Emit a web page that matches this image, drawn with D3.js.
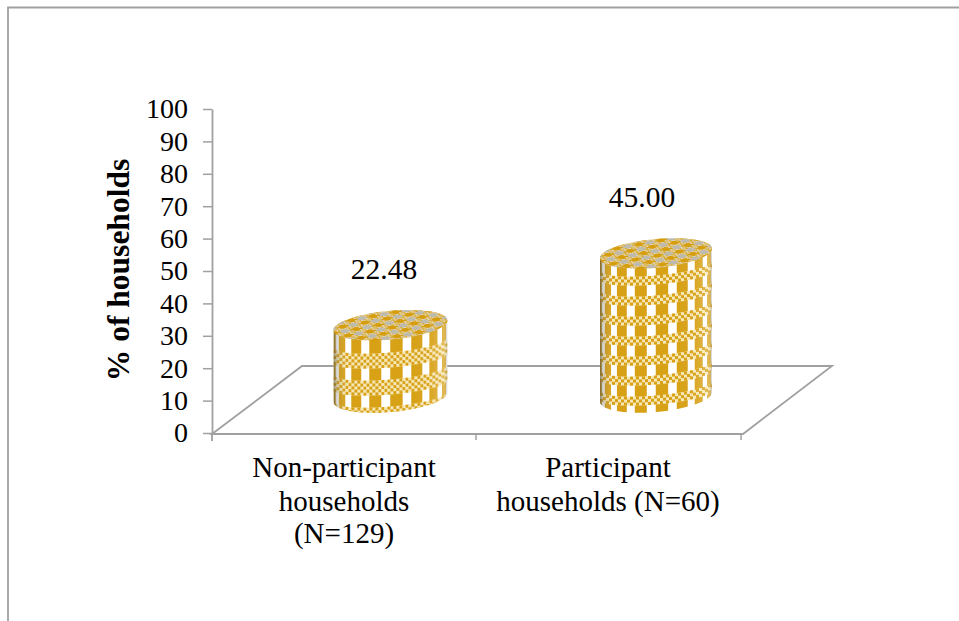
<!DOCTYPE html>
<html><head><meta charset="utf-8">
<script src="https://cdn.jsdelivr.net/npm/d3@7/dist/d3.min.js"></script>
<style>html,body{margin:0;padding:0;background:#fff}svg{display:block}text{font-family:"Liberation Serif","Times New Roman",serif;fill:#000}</style>
</head><body><div id="c"></div>
<script>
const categories=[["Non-participant","households","(N=129)"],["Participant","households (N=60)"]];
const values=[22.48,45.00];
const valueLabels=["22.48","45.00"];
const yTicks=d3.range(0,101,10);
const yTitle="% of households";
const gold="#d69d0c", grey="#a0a0a0";
const W=959,H=621;
const svg=d3.select("#c").append("svg").attr("width",W).attr("height",H);
const defs=svg.append("defs");
svg.append("path").attr("d","M8,621V7.5H959").attr("fill","none").attr("stroke",grey).attr("stroke-width",1.8);
const y=d3.scaleLinear().domain([0,100]).range([433,109]);
const yDepth=d3.scaleLinear().domain([0,100]).range([397,78]);
svg.append("path").attr("d","M212,434L302,366H832L743,434Z").attr("fill","none").attr("stroke",grey).attr("stroke-width",1.8);
const gy=svg.append("g").attr("transform","translate(212,0)").call(d3.axisLeft(y).tickValues(yTicks).tickSize(9).tickPadding(15).tickSizeOuter(0));
gy.select(".domain").attr("stroke",grey).attr("stroke-width",1.8);
gy.selectAll(".tick line").attr("stroke",grey).attr("stroke-width",1.5);
gy.selectAll("text").attr("font-size",28).attr("font-family","Liberation Serif");
svg.append("line").attr("x1",212).attr("x2",212).attr("y1",433).attr("y2",441).attr("stroke",grey).attr("stroke-width",1.8);
svg.selectAll("line.xt").data([476,741]).join("line").attr("x1",d=>d).attr("x2",d=>d).attr("y1",434).attr("y2",440).attr("stroke",grey).attr("stroke-width",1.5);
svg.append("text").attr("transform","translate(129,270) rotate(-90)").attr("text-anchor","middle").attr("font-size",31.5).attr("font-weight","bold").text(yTitle);
const S=16,h=S/2;
const pat=defs.append("pattern").attr("id","topPat").attr("patternUnits","userSpaceOnUse").attr("width",S).attr("height",S).attr("patternTransform","scale(1,0.42) rotate(32)");
pat.append("rect").attr("width",S).attr("height",S).attr("fill","#e4e2d8");
pat.append("rect").attr("width",h).attr("height",h).attr("fill",gold);
pat.append("rect").attr("x",h).attr("y",h).attr("width",h).attr("height",h).attr("fill","#bdbab0");
d3.range(4).forEach(i=>d3.range(4).forEach(j=>{
  if((i+j)%2==0){
    pat.append("rect").attr("x",h+i*2).attr("y",j*2).attr("width",2).attr("height",2).attr("fill",gold);
    pat.append("rect").attr("x",i*2).attr("y",h+j*2).attr("width",2).attr("height",2).attr("fill",gold);
  }
}));
const sh=defs.append("linearGradient").attr("id","shade");
[[0,"#444",.6],[.03,"#777",.3],[.12,"#fff",.03],[.82,"#fff",.06],[.97,"#fff",.28],[1,"#999",.45]].forEach(s=>sh.append("stop").attr("offset",s[0]).attr("stop-color",s[1]).attr("stop-opacity",s[2]));
const blur=defs.append("filter").attr("id","soft").attr("x","-5%").attr("y","-5%").attr("width","110%").attr("height","110%");
blur.append("feGaussianBlur").attr("stdDeviation",0.5);
const centers=[390.5,656], radii=[57,56], ryTop=14.5, ryBot=15, tilt=0.085;
const bandPeriod=[27,20], bandRows=[5,3], bandRef=[387,400], stripeShift=[6,6];
values.forEach((v,i)=>{
  const cx=centers[i], rx=radii[i], top=yDepth(v), bot=yDepth(0);
  const ang=d3.range(0,181,6).map(a=>a*Math.PI/180);
  const pt=(c,ry,t)=>[cx+rx*Math.cos(t), c+ry*Math.sin(t)-tilt*rx*Math.cos(t)];
  const outline=ang.map(t=>pt(bot,ryBot,t)).concat(ang.map(t=>pt(top,ryTop,Math.PI+t)));
  const cid="clip"+i;
  defs.append("clipPath").attr("id",cid).append("path").attr("d",d3.line()(outline)+"Z");
  const g=svg.append("g").attr("filter","url(#soft)");
  const b=g.append("g").attr("clip-path",`url(#${cid})`);
  const x0=cx-rx, bw=2*rx, y0=top-30, bh=bot-top+60;
  b.append("rect").attr("x",x0).attr("y",y0).attr("width",bw).attr("height",bh).attr("fill","#fff");
  const curve=px=>ryTop*0.65*Math.sqrt(Math.max(0,1-((px-cx)/rx)**2))-tilt*(px-cx);
  const P=21.5, Wd=12.5;
  const toX=t=>cx+rx*Math.sin(Math.max(-Math.PI/2,Math.min(Math.PI/2,t/rx)));
  for(let k=-5;k<=5;k++){
    const a=toX(k*P-Wd/2+stripeShift[i]), c=toX(k*P+Wd/2+stripeShift[i]);
    if(c-a<.2) continue;
    b.append("rect").attr("x",a).attr("y",y0).attr("width",c-a).attr("height",bh).attr("fill",gold);
  }
  const cell=3, rows=bandRows[i], bp=bandPeriod[i];
  for(let n=-1;;n++){
    const centreY=bandRef[i]-n*bp;
    if(centreY<top+ryTop-4) break;
    let c=0;
    for(let px=x0;px<cx+rx;px+=cell,c++){
      const off=curve(px+cell/2)-ryTop*0.65;
      const by=centreY+off-rows*cell/2;
      b.append("rect").attr("x",px).attr("y",by).attr("width",cell+.1).attr("height",rows*cell).attr("fill","#f6e6b4");
      for(let r=0;r<rows;r++){
        if((r+c)%2==0) b.append("rect").attr("x",px).attr("y",by+r*cell).attr("width",cell).attr("height",cell).attr("fill",gold);
      }
    }
  }
  b.append("rect").attr("x",x0).attr("y",y0).attr("width",bw).attr("height",bh).attr("fill","url(#shade)");
  g.append("ellipse").attr("cx",0).attr("cy",0).attr("rx",rx).attr("ry",ryTop).attr("transform",`matrix(1,${-tilt},0,1,${cx},${top})`).attr("fill","url(#topPat)");
});
const valueX=[384,642], valueY=[279,207];
valueLabels.forEach((t,i)=>svg.append("text").attr("x",valueX[i]).attr("y",valueY[i]).attr("text-anchor","middle").attr("font-size",29.5).text(t));
const labelCx=[344,608], labelY=[477,511,543];
categories.forEach((ls,i)=>ls.forEach((l,j)=>{
  svg.append("text").attr("x",labelCx[i]).attr("y",labelY[j]).attr("text-anchor","middle").attr("font-size",29).text(l);
}));
</script></body></html>
